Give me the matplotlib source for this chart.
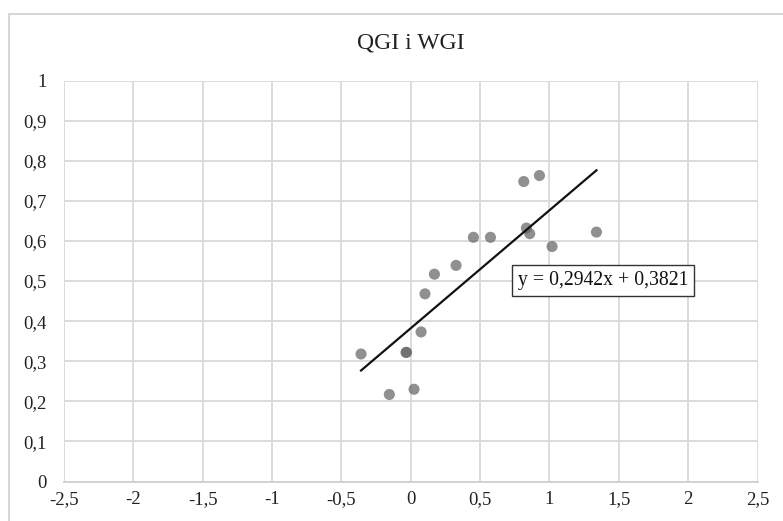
import matplotlib
matplotlib.use("Agg")
import matplotlib.pyplot as plt
from matplotlib.patches import Rectangle
import numpy as np

title = "QGI i WGI"
x_vals = [-0.358, -0.154, -0.034, -0.030, 0.024, 0.075, 0.103, 0.171, 0.327,
          0.452, 0.575, 0.815, 0.928, 0.834, 0.858, 1.019, 1.339]
y_vals = [0.318, 0.217, 0.322, 0.322, 0.230, 0.373, 0.468, 0.517, 0.539,
          0.609, 0.609, 0.748, 0.763, 0.632, 0.618, 0.586, 0.622]
slope = 0.2942
intercept = 0.3821
eq_label = "y = 0,2942x + 0,3821"
x_ticks = [-2.5, -2, -1.5, -1, -0.5, 0, 0.5, 1, 1.5, 2, 2.5]
y_ticks = [0, 0.1, 0.2, 0.3, 0.4, 0.5, 0.6, 0.7, 0.8, 0.9, 1]

plt.rcParams['font.family'] = ['Liberation Serif', 'DejaVu Serif']

W, H = 783, 521
fig = plt.figure(figsize=(W / 100, H / 100), dpi=100)
fig.patch.set_facecolor('white')

# chart-area border
fig.add_artist(Rectangle((8.5 / W, -0.05), (W + 5) / W, 1.05 - 14.5 / H,
                         transform=fig.transFigure, fill=False,
                         edgecolor='#d0d0d0', linewidth=1.2))

ax = fig.add_axes([63.9 / W, 39.5 / H, 693.6 / W, 401 / H])
ax.set_xlim(-2.5, 2.5)
ax.set_ylim(0, 1)
ax.set_xticks(x_ticks)
ax.set_yticks(y_ticks)

def fmt(v):
    return ('%g' % v).replace('.', ',')

ax.set_xticklabels([fmt(v) for v in x_ticks])
ax.set_yticklabels([fmt(v) for v in y_ticks])
ax.tick_params(axis='both', length=0, labelsize=13.5, colors='#222222')
ax.tick_params(axis='y', pad=12.5)
ax.tick_params(axis='x', pad=7)

ax.grid(True, color='#d9d9d9', linewidth=1.3)
ax.set_axisbelow(True)
for s in ['top', 'right', 'left']:
    ax.spines[s].set_visible(False)
ax.spines['bottom'].set_color('#d0d0d0')
ax.spines['bottom'].set_linewidth(1.3)

ax.scatter(x_vals, y_vals, s=64, color='#666666', alpha=0.72,
           edgecolors='none', zorder=3)

xs = np.array([min(x_vals), max(x_vals)])
ax.plot(xs, slope * xs + intercept, color='#111111', linewidth=1.6, zorder=4)

ax.text(1.386, 0.502, eq_label, fontsize=14.2, ha='center', va='center',
        color='#111111', zorder=5,
        bbox=dict(boxstyle='square,pad=0.3', facecolor='white',
                  edgecolor='#333333', linewidth=1.0))

ax.set_title(title, fontsize=17, color='#222222', pad=23)

fig.savefig('out.png', dpi=100, facecolor='white')
